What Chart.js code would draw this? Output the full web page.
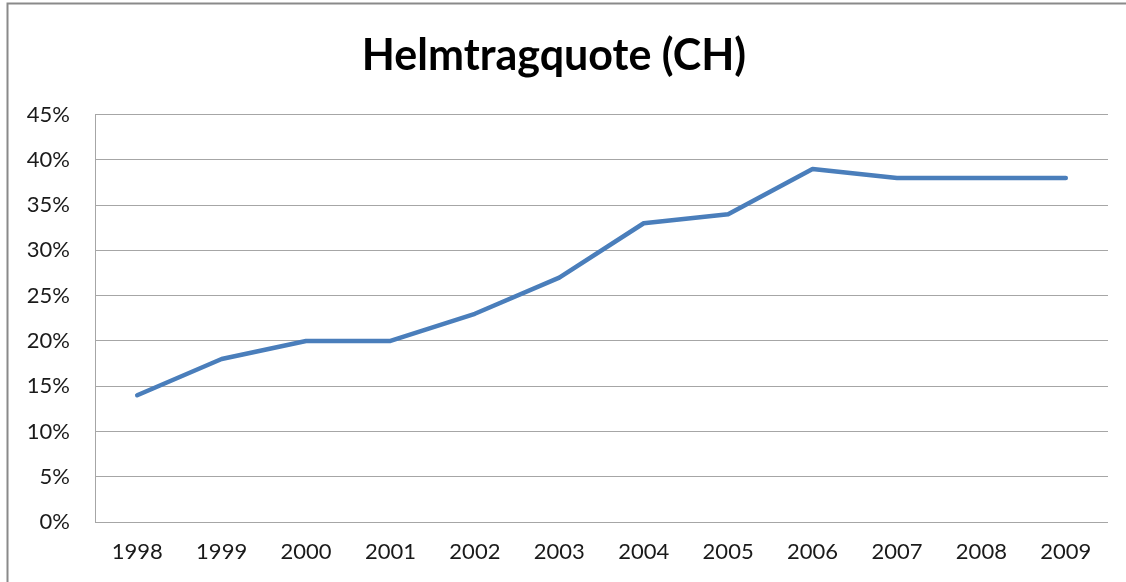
<!DOCTYPE html>
<html>
<head>
  <title>Helmtragquote (CH)</title>
  <script src="https://cdn.jsdelivr.net/npm/chart.js"></script>
  <style>
    html, body { margin: 0; padding: 0; background: #fff; }
    .chart-container { position: relative; width: 1126px; height: 582px; }
  </style>
</head>
<body>
  <div class="chart-container">
    <canvas id="chartHelmet"></canvas>
  </div>
  <script>
    const years = ['1998', '1999', '2000', '2001', '2002', '2003', '2004', '2005', '2006', '2007', '2008', '2009'];
    const helmetRate = [14, 18, 20, 20, 23, 27, 33, 34, 39, 38, 38, 38];
    const yTicks = [0, 5, 10, 15, 20, 25, 30, 35, 40, 45];

    const fontFamily = 'Lato, "Open Sans", sans-serif';

    // outer frame of the chart (top + left edges visible)
    const framePlugin = {
      id: 'frame',
      beforeDraw(chart) {
        const ctx = chart.ctx;
        ctx.save();
        ctx.strokeStyle = '#8a8a8a';
        ctx.lineWidth = 2;
        ctx.beginPath();
        ctx.moveTo(7.5, 582);
        ctx.lineTo(7.5, 3.5);
        ctx.lineTo(1126, 3.5);
        ctx.stroke();
        ctx.restore();
      }
    };

    const ctx = document.getElementById('chartHelmet').getContext('2d');
    new Chart(ctx, {
      type: 'line',
      data: {
        labels: years,
        datasets: [{
          label: 'Helmtragquote',
          data: helmetRate,
          borderColor: '#4A7EBB',
          backgroundColor: '#4A7EBB',
          borderWidth: 4.5,
          pointRadius: 0,
          tension: 0,
          fill: false,
          borderCapStyle: 'round',
          borderJoinStyle: 'round'
        }]
      },
      options: {
        responsive: true,
        maintainAspectRatio: false,
        animation: false,
        layout: { padding: { left: 0, right: 18, top: 0, bottom: 0 } },
        plugins: {
          legend: { display: false },
          tooltip: { enabled: false },
          title: {
            display: true,
            text: 'Helmtragquote (CH)',
            color: '#000',
            font: { family: fontFamily, size: 43, weight: 'bold' },
            padding: { top: 30, bottom: 33 }
          }
        },
        scales: {
          x: {
            offset: true,
            grid: { display: false, drawTicks: false },
            border: { display: false },
            ticks: {
              color: '#1a1a1a',
              font: { family: fontFamily, size: 22 },
              padding: 17,
              maxRotation: 0,
              autoSkip: false
            },
            afterFit(scale) { scale.height = 60; }
          },
          y: {
            min: 0,
            max: 45,
            afterBuildTicks(scale) {
              scale.ticks = yTicks.map(v => ({ value: v }));
            },
            grid: { color: '#a6a6a6', lineWidth: 1, drawTicks: false },
            border: { display: true, color: '#a6a6a6', width: 1 },
            ticks: {
              color: '#1a1a1a',
              font: { family: fontFamily, size: 22 },
              padding: 25,
              callback: v => v + '%'
            },
            afterFit(scale) { scale.width = 95; }
          }
        }
      },
      plugins: [framePlugin]
    });
  </script>
</body>
</html>
